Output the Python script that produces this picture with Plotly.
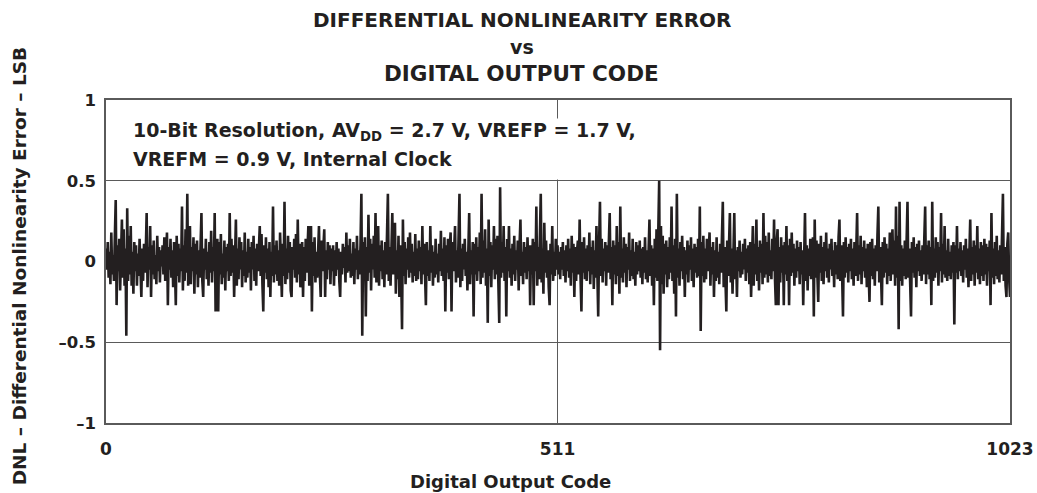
import plotly.graph_objs as go


FONT = 'DejaVu Sans'
INK = '#231f20'
FRAME = '#5a5a5a'

TITLE_LINES = ['DIFFERENTIAL NONLINEARITY ERROR', 'vs', 'DIGITAL OUTPUT CODE']
NOTE_LINES = ['10-Bit Resolution, AV<sub>DD</sub> = 2.7 V, VREFP = 1.7 V,',
              'VREFM = 0.9 V, Internal Clock']
X_TITLE = 'Digital Output Code'
Y_TITLE = 'DNL \u2013 Differential Nonlinearity Error \u2013 LSB'

X_TICKS = [0, 511, 1023]
X_TICK_TEXT = ['0', '511', '1023']
Y_TICKS = [-1, -0.5, 0, 0.5, 1]
Y_TICK_TEXT = ['\u20131', '\u20130.5', '0', '0.5', '1']

# DNL per output code (LSB), 32 codes per row
DNL_LSB = [
    # 0
    0.08, -0.05, 0.12, -0.10, 0.06, -0.14, 0.18, -0.08, 0.04, -0.12, 0.15, 0.38, -0.27, 0.10, -0.06, 0.14,
    -0.18, 0.05, 0.26, -0.10, 0.20, -0.15, 0.08, -0.46, 0.33, -0.12, 0.16, -0.08, 0.22, -0.15, 0.06, -0.20,
    # 32
    0.12, -0.06, 0.10, -0.15, 0.05, -0.09, 0.14, -0.04, -0.22, 0.08, -0.12, 0.11, -0.07, 0.06, 0.30, -0.16,
    0.09, -0.05, 0.22, -0.22, 0.10, -0.08, 0.13, -0.11, 0.04, -0.14, 0.16, -0.06, 0.09, -0.13, 0.07, -0.03,
    # 64
    0.10, -0.08, 0.15, -0.12, 0.06, 0.18, -0.27, 0.09, -0.05, 0.14, -0.10, 0.07, -0.16, 0.12, -0.04, -0.27,
    0.16, -0.09, 0.11, -0.13, 0.08, -0.06, 0.34, -0.18, 0.10, -0.12, 0.20, -0.07, 0.42, -0.15, 0.08, 0.22,
    # 96
    -0.14, 0.09, -0.06, 0.15, -0.20, 0.11, -0.08, 0.13, -0.16, 0.07, -0.10, 0.18, 0.30, -0.12, -0.22, 0.08,
    -0.05, 0.14, -0.11, 0.06, -0.15, 0.12, -0.07, 0.19, -0.13, 0.09, -0.06, 0.30, -0.31, 0.10, 0.14, -0.31,
    # 128
    0.12, -0.08, 0.17, -0.14, 0.05, -0.10, 0.13, -0.18, 0.09, -0.06, 0.11, -0.12, 0.30, -0.09, 0.14, -0.07,
    0.10, -0.22, 0.06, 0.26, -0.15, 0.08, -0.11, 0.15, -0.05, 0.12, -0.16, 0.07, -0.09, 0.18, -0.13, 0.06,
    # 160
    -0.10, 0.14, -0.07, 0.09, -0.18, 0.12, -0.05, 0.16, -0.12, 0.08, -0.15, 0.11, -0.06, 0.13, 0.22, -0.09,
    0.17, -0.14, -0.31, 0.10, -0.07, 0.15, -0.11, 0.08, -0.16, 0.12, -0.22, 0.06, -0.09, 0.34, -0.13, 0.10,
    # 192
    -0.08, 0.13, -0.12, 0.07, -0.15, 0.18, -0.06, -0.22, 0.11, -0.09, 0.37, -0.14, 0.08, -0.11, 0.16, -0.07,
    0.12, -0.18, -0.22, 0.09, -0.05, 0.14, -0.10, 0.17, -0.13, 0.26, -0.08, 0.11, -0.16, 0.07, 0.12, -0.22,
    # 224
    0.09, -0.12, 0.14, -0.07, 0.10, 0.22, -0.15, 0.08, 0.22, -0.31, 0.12, -0.09, 0.15, -0.13, 0.06, -0.10,
    0.11, 0.22, -0.08, -0.22, 0.13, -0.06, 0.09, 0.20, -0.22, 0.07, -0.11, 0.12, -0.05, 0.10, -0.14, 0.08,
    # 256
    -0.06, 0.10, -0.15, 0.07, -0.09, 0.12, -0.05, 0.08, -0.12, -0.22, 0.06, -0.08, 0.11, -0.04, 0.09, -0.13,
    0.18, -0.07, 0.10, -0.06, 0.14, -0.10, 0.05, -0.09, 0.12, -0.14, 0.08, -0.05, 0.16, -0.11, 0.07, -0.08,
    # 288
    0.10, 0.42, -0.46, 0.12, -0.08, 0.15, -0.34, 0.09, -0.12, 0.29, -0.07, 0.14, -0.18, 0.11, -0.05, 0.16,
    -0.10, 0.30, -0.13, 0.08, 0.22, -0.15, 0.10, -0.06, 0.13, -0.11, 0.07, -0.16, 0.12, -0.08, 0.15, 0.42,
    # 320
    -0.12, 0.09, -0.15, 0.11, 0.30, -0.08, 0.14, 0.24, -0.20, 0.07, -0.11, 0.16, -0.22, 0.10, -0.06, -0.42,
    0.26, -0.09, 0.12, -0.14, 0.08, -0.05, 0.15, -0.10, 0.18, -0.07, 0.11, -0.13, 0.06, -0.09, 0.17, -0.12,
    # 352
    0.08, -0.11, 0.13, -0.06, 0.09, -0.14, 0.22, -0.08, 0.11, -0.05, -0.27, 0.12, -0.09, 0.07, -0.12, 0.22,
    -0.07, 0.10, -0.15, 0.06, -0.10, 0.14, -0.08, 0.05, -0.13, 0.11, -0.06, 0.19, -0.09, 0.08, -0.12, 0.15,
    # 384
    -0.31, 0.10, -0.07, 0.14, -0.11, 0.08, 0.18, -0.31, 0.12, -0.06, 0.09, 0.22, -0.13, 0.07, -0.10, 0.15,
    0.42, -0.16, 0.08, -0.12, 0.11, -0.05, 0.14, -0.09, 0.06, -0.18, 0.10, 0.30, -0.14, 0.07, -0.08, 0.12,
    # 416
    -0.34, 0.11, -0.08, 0.15, -0.12, 0.09, -0.06, 0.18, -0.14, 0.42, -0.10, 0.13, -0.07, 0.20, -0.15, 0.08,
    -0.38, 0.26, -0.09, 0.12, -0.16, 0.10, -0.05, 0.22, -0.11, 0.14, -0.08, 0.16, -0.13, -0.38, 0.46, -0.10,
    # 448
    0.12, -0.07, 0.22, -0.12, 0.09, -0.34, 0.14, -0.06, 0.22, -0.10, 0.08, -0.15, 0.11, -0.08, 0.16, -0.12,
    0.07, -0.05, 0.13, -0.18, 0.10, 0.26, -0.09, 0.06, -0.14, 0.12, -0.07, 0.09, -0.11, 0.15, -0.06, 0.10,
    # 480
    -0.27, 0.10, -0.08, 0.14, -0.27, 0.12, -0.06, 0.34, -0.15, 0.09, -0.11, 0.16, 0.42, -0.13, 0.08, -0.20,
    0.24, -0.07, 0.13, -0.10, 0.07, -0.16, -0.27, 0.11, -0.08, 0.22, -0.12, 0.06, -0.09, 0.14, -0.05, 0.10,
    # 512
    -0.08, 0.06, -0.11, 0.09, -0.05, 0.12, -0.09, 0.07, -0.13, 0.10, -0.06, 0.14, -0.10, 0.08, -0.15, 0.16,
    -0.07, 0.11, -0.22, 0.09, -0.12, 0.06, 0.13, -0.08, 0.26, -0.10, -0.31, 0.12, -0.07, 0.15, -0.11, 0.08,
    # 544
    -0.12, 0.10, -0.06, 0.18, -0.14, 0.09, -0.08, 0.13, -0.17, 0.07, -0.10, 0.22, -0.12, -0.34, 0.11, 0.37,
    -0.09, 0.14, -0.13, 0.08, -0.06, 0.12, -0.15, 0.10, -0.07, 0.16, 0.30, -0.11, 0.09, -0.27, 0.13, -0.08,
    # 576
    0.10, -0.14, 0.22, -0.09, 0.12, -0.20, 0.34, -0.10, 0.08, -0.13, 0.15, -0.07, 0.11, -0.16, 0.09, -0.05,
    0.18, -0.12, 0.07, -0.09, 0.14, -0.11, 0.06, -0.15, 0.12, -0.08, 0.10, -0.06, 0.13, -0.10, 0.08, -0.14,
    # 608
    0.09, -0.07, 0.15, -0.11, 0.07, -0.13, 0.12, 0.26, -0.09, 0.10, -0.15, 0.08, -0.27, 0.14, -0.10, 0.20,
    -0.12, 0.18, 0.50, -0.55, 0.22, -0.14, 0.16, -0.20, 0.11, -0.08, 0.13, -0.16, 0.09, -0.11, 0.15, -0.07,
    # 640
    0.34, -0.12, 0.10, -0.20, 0.14, -0.34, 0.42, -0.10, 0.08, -0.15, 0.12, -0.06, 0.16, -0.11, 0.09, -0.22,
    0.07, -0.08, 0.13, -0.13, 0.10, -0.05, 0.15, -0.12, 0.08, -0.16, 0.11, -0.07, 0.09, -0.10, 0.14, -0.09,
    # 672
    0.34, -0.43, 0.12, -0.09, 0.16, -0.13, 0.08, -0.11, 0.14, -0.06, 0.10, 0.18, -0.15, 0.09, -0.08, 0.12,
    -0.22, 0.07, -0.12, 0.15, -0.10, 0.06, -0.14, 0.11, -0.07, 0.20, 0.37, -0.16, 0.09, -0.12, -0.31, 0.13,
    # 704
    -0.09, 0.10, 0.30, -0.13, 0.08, -0.20, 0.12, 0.30, -0.11, 0.07, -0.22, 0.09, -0.06, 0.13, -0.10, 0.06,
    -0.08, 0.11, -0.05, 0.14, -0.12, 0.08, -0.07, 0.10, -0.14, 0.12, -0.22, 0.09, 0.22, -0.15, 0.11, -0.08,
    # 736
    0.26, -0.12, 0.09, -0.18, 0.13, -0.07, 0.11, -0.14, 0.30, -0.10, 0.16, -0.08, 0.12, -0.13, 0.18, -0.09,
    0.07, -0.11, 0.14, -0.06, 0.26, -0.10, -0.27, 0.12, 0.20, -0.27, 0.09, -0.13, 0.15, -0.07, 0.10, -0.27,
    # 768
    0.12, -0.08, 0.22, -0.12, 0.10, -0.27, 0.14, -0.09, 0.18, -0.07, 0.11, -0.15, 0.08, -0.10, 0.13, -0.06,
    0.09, -0.14, 0.12, -0.08, 0.07, -0.27, 0.16, 0.30, -0.12, 0.10, -0.18, 0.08, -0.09, 0.14, -0.11, 0.09,
    # 800
    0.15, -0.34, 0.26, -0.10, 0.13, -0.08, -0.25, 0.11, -0.07, 0.16, -0.12, 0.09, -0.14, 0.12, -0.06, 0.18,
    -0.10, 0.08, -0.13, 0.11, -0.05, 0.14, -0.09, 0.07, -0.16, 0.12, -0.08, 0.10, -0.11, 0.15, 0.26, -0.12,
    # 832
    0.10, -0.08, -0.34, 0.12, -0.10, 0.15, -0.07, 0.09, -0.13, 0.11, -0.06, 0.14, -0.11, 0.08, -0.15, 0.12,
    -0.09, 0.07, 0.30, -0.12, 0.10, -0.08, 0.16, -0.14, 0.09, -0.06, 0.13, -0.10, 0.08, -0.16, 0.11, -0.07,
    # 864
    -0.25, 0.12, -0.09, 0.14, -0.11, 0.08, -0.15, 0.10, -0.06, 0.16, 0.34, -0.13, 0.09, -0.08, -0.27, 0.12,
    -0.10, 0.15, -0.07, 0.11, -0.14, 0.08, -0.09, 0.18, -0.12, 0.10, 0.20, -0.08, 0.13, -0.15, 0.34, -0.10,
    # 896
    0.16, -0.42, 0.37, -0.12, 0.10, -0.15, 0.08, -0.09, 0.13, -0.11, 0.14, 0.37, -0.10, 0.08, -0.13, -0.34,
    0.12, -0.07, 0.15, -0.10, 0.09, -0.16, 0.11, -0.06, 0.13, -0.09, 0.07, -0.12, 0.10, -0.08, 0.14, 0.34,
    # 928
    -0.14, 0.10, -0.08, 0.13, -0.11, 0.09, -0.27, 0.37, -0.12, 0.08, -0.10, 0.15, -0.07, 0.12, -0.15, 0.09,
    -0.06, 0.30, -0.13, 0.11, -0.08, 0.22, -0.10, 0.07, -0.12, 0.14, -0.09, 0.06, -0.11, 0.10, -0.07, 0.12,
    # 960
    -0.39, 0.10, -0.07, 0.22, -0.11, 0.08, -0.06, 0.12, -0.09, 0.07, -0.13, 0.10, -0.05, 0.14, -0.10, 0.08,
    -0.16, 0.11, 0.26, -0.12, 0.09, -0.08, 0.13, -0.15, 0.10, -0.07, 0.22, -0.11, 0.08, -0.14, 0.12, -0.09,
    # 992
    0.10, -0.12, 0.14, -0.08, 0.11, -0.15, 0.09, -0.06, 0.13, -0.27, 0.30, -0.10, 0.08, -0.14, 0.12, -0.09,
    0.16, -0.11, 0.07, -0.13, 0.10, -0.08, 0.18, 0.42, -0.12, 0.09, -0.15, -0.22, 0.11, 0.18, -0.10, -0.22,
]
CODES = list(range(len(DNL_LSB)))


def bold(text):
    return '<b>' + text + '</b>'


fig = go.Figure()
fig.add_trace(go.Scatter(
    x=CODES,
    y=DNL_LSB,
    mode='lines',
    line=dict(color=INK, width=2.6),
    showlegend=False,
))

# three-line heading, centred a little left of the plot centre
for text, ypos, size in zip(TITLE_LINES, [1.248, 1.164, 1.081], [20, 19, 21.5]):
    fig.add_annotation(
        text=bold(text), xref='paper', yref='paper',
        x=0.46, y=ypos, xanchor='center', yanchor='middle',
        showarrow=False, font=dict(family=FONT, size=size, color=INK),
    )

# conditions note; white box hides the 511 grid line behind it
fig.add_annotation(
    text=bold(NOTE_LINES[0]), xref='paper', yref='paper',
    x=0.029, y=0.945, xanchor='left', yanchor='top',
    height=60, valign='top', align='left',
    showarrow=False, bgcolor='white', borderpad=0,
    font=dict(family=FONT, size=19, color=INK),
)
fig.add_annotation(
    text=bold(NOTE_LINES[1]), xref='paper', yref='paper',
    x=0.029, y=0.817, xanchor='left', yanchor='middle',
    align='left', showarrow=False, borderpad=0,
    font=dict(family=FONT, size=19, color=INK),
)

fig.add_annotation(
    text=bold(X_TITLE), xref='paper', yref='paper',
    x=0.448, y=-0.18, xanchor='center', yanchor='middle',
    showarrow=False, font=dict(family=FONT, size=18, color=INK),
)
fig.add_annotation(
    text=bold(Y_TITLE), xref='paper', yref='paper',
    x=-0.096, y=0.486, xanchor='center', yanchor='middle', textangle=-90,
    showarrow=False, font=dict(family=FONT, size=18.5, color=INK),
)

fig.update_layout(
    width=1037,
    height=493,
    paper_bgcolor='white',
    plot_bgcolor='white',
    margin=dict(l=106, r=27, t=100, b=70),
    font=dict(family=FONT, color=INK),
    xaxis=dict(
        range=[0, 1023],
        tickvals=X_TICKS,
        ticktext=X_TICK_TEXT,
        tickfont=dict(family=FONT, size=17, color=INK, weight='bold'),
        showgrid=True, gridcolor=FRAME, gridwidth=1,
        showline=True, linecolor=FRAME, linewidth=1.5, mirror=True,
        zeroline=False, automargin=False,
        ticks='', ticklabelstandoff=10,
    ),
    yaxis=dict(
        range=[-1, 1],
        tickvals=Y_TICKS,
        ticktext=Y_TICK_TEXT,
        tickfont=dict(family=FONT, size=16.5, color=INK, weight='bold'),
        showgrid=True, gridcolor=FRAME, gridwidth=1,
        showline=True, linecolor=FRAME, linewidth=1.5, mirror=True,
        zeroline=False, automargin=False,
        ticks='', ticklabelstandoff=5,
    ),
)

# page has a default body margin that pushes the fixed-size figure off the edge
fig.write_html("out.html", config={'displayModeBar': False},
               post_script="document.body.style.margin = '0';")
